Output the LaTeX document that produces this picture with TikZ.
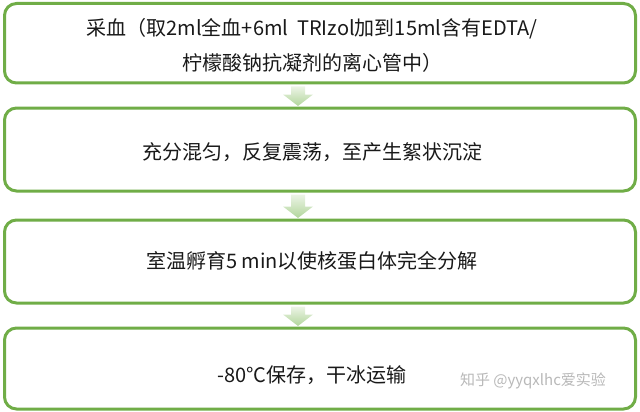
\documentclass[tikz,border=0pt]{standalone}
\usepackage{fontspec}
\setmainfont{Noto Sans CJK SC}
\usetikzlibrary{calc}
\definecolor{boxgreen}{RGB}{112,173,71}
\definecolor{arrowlight}{RGB}{236,244,230}
\definecolor{arrowdark}{RGB}{178,214,156}
\definecolor{txt}{RGB}{25,25,25}
\definecolor{wm}{RGB}{185,185,185}
\tikzset{
  stepbox/.style={draw=boxgreen, line width=3pt, rounded corners=12pt, minimum width=631pt, inner sep=0pt, fill=white},
  steptext/.style={text=txt, font=\fontsize{20}{35}\selectfont, align=center, inner sep=0pt},
  arrowfill/.style={top color=arrowlight, bottom color=arrowdark, draw=none},
}
\newcommand\blockarr[2]{%
  \shade[arrowfill] let \p1=(#1.south), \p2=(#2.north) in
    (\x1-29pt,\y1-2pt) -- (\x1-15pt,\y1-2pt) -- (\x1-15pt,\y2+12pt) -- (\x1-7pt,\y2+12pt)
    -- (\x1-22pt,\y2+0.5pt) -- (\x1-37pt,\y2+12pt) -- (\x1-29pt,\y2+12pt) -- cycle;}
\begin{document}
\begin{tikzpicture}[x=1pt,y=-1pt]
\useasboundingbox (0,0) rectangle (640,412);
\node[stepbox, minimum height=79.5pt] (b1) at (320,43.25) {};
\node[stepbox, minimum height=83pt] (b2) at (320,149.5) {};
\node[stepbox, minimum height=83pt] (b3) at (320,261.5) {};
\node[stepbox, minimum height=81pt] (b4) at (320,368.5) {};
\node[steptext] (t1) at (312,45) {采血（取2ml全血+6ml\ \ TRIzol加到15ml含有EDTA/\\柠檬酸钠抗凝剂的离心管中）};
\node[steptext] (t2) at (312,152) {充分混匀，反复震荡，至产生絮状沉淀};
\node[steptext] (t3) at (312,261) {室温孵育5 min以使核蛋白体完全分解};
\node[steptext] (t4) at (312,375) {-80°C保存，干冰运输};
\node[text=wm, font=\fontsize{15}{18}\selectfont, inner sep=0pt] (wm) at (533,381) {知乎 @yyqxlhc爱实验};
\blockarr{b1}{b2}
\blockarr{b2}{b3}
\blockarr{b3}{b4}
\end{tikzpicture}
\end{document}
